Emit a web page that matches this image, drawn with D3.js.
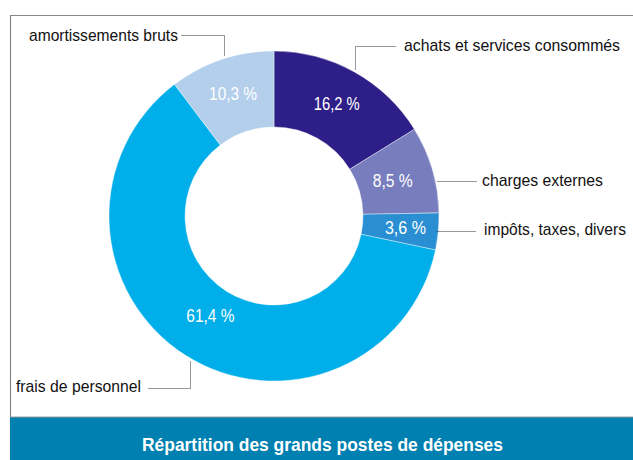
<!DOCTYPE html>
<meta charset="utf-8">
<style>
body { margin: 0; background: #fff; }
svg { display: block; }
.lbl { font-family: 'Liberation Sans', Arial, sans-serif; font-size: 17px; fill: #111; }
.pct { font-family: 'Liberation Sans', Arial, sans-serif; font-size: 17.5px; fill: #fff; }
.lead { fill: none; stroke: #333; stroke-width: 1; stroke-dasharray: 1,1; }
.title { font-family: 'Liberation Sans', Arial, sans-serif; font-size: 19px; font-weight: bold; fill: #fff; }
</style>
<body>
<div id="chart"></div>
<script src="https://cdn.jsdelivr.net/npm/d3@7"></script>
<script>
// parts of expenses, clockwise from 12 o'clock
var categories = ['achats et services consommés', 'charges externes', 'impôts, taxes, divers', 'frais de personnel', 'amortissements bruts']
var values = [16.2, 8.5, 3.6, 61.4, 10.3]
var colours = ['#2e1e87', '#777dbd', '#2a8fd2', '#00aeea', '#b3cfec']
var title = 'Répartition des grands postes de dépenses'

var svg = d3.select('#chart')
            .append('svg')
            .attr('width', 633)
            .attr('height', 460)

// frame
svg.append('path')
   .attr('d', 'M10.5,460 V15.5 H633')
   .attr('fill', 'none')
   .attr('stroke', '#888')
   .attr('stroke-width', 1.2)

svg.append('rect')
   .attr('x', 10).attr('y', 417)
   .attr('width', 623).attr('height', 43)
   .attr('fill', '#007fb1')
svg.append('line')
   .attr('x1', 10).attr('x2', 633)
   .attr('y1', 417).attr('y2', 417)
   .attr('stroke', '#999').attr('stroke-width', 1.2)

// narrow font look: squeeze text to the widths of the original
svg.append('text')
   .attr('x', 142)
   .attr('y', 451)
   .attr('class', 'title')
   .attr('textLength', 361)
   .attr('lengthAdjust', 'spacingAndGlyphs')
   .text(title)

var cx = 274, cy = 216, R = 165, r = 89

var pie = d3.pie().sort(null).value(function(d){ return d })
var arcs = pie(values)
var arc = d3.arc().innerRadius(r).outerRadius(R)

var g = svg.append('g').attr('transform', 'translate(' + cx + ',' + cy + ')')

g.selectAll('path.slice')
 .data(arcs)
 .enter().append('path')
 .attr('class', 'slice')
 .attr('d', arc)
 .attr('fill', function(d, i){ return colours[i] })
 .attr('stroke', '#fff')
 .attr('stroke-width', 0.4)

// percentage labels, radius tweaked per slice to sit like the original
var labelR = [0.78, 0.75, 0.80, 0.72, 0.78]
var labelW = [46, 40, 41, 48, 48]
g.selectAll('text.pct')
 .data(arcs)
 .enter().append('text')
 .attr('class', 'pct')
 .attr('x', function(d, i){ var a = (d.startAngle + d.endAngle) / 2; return Math.sin(a) * R * labelR[i] - labelW[i] / 2 })
 .attr('y', function(d, i){ var a = (d.startAngle + d.endAngle) / 2; return -Math.cos(a) * R * labelR[i] + 6 })
 .attr('textLength', function(d, i){ return labelW[i] })
 .attr('lengthAdjust', 'spacingAndGlyphs')
 .text(function(d){ return d.data.toFixed(1).replace('.', ',') + ' %' })

// category labels with dotted leaders
var leaders = [
  { tx: 404, ty: 51, w: 216, pts: [[395, 46], [355, 46], [355, 70]] },
  { tx: 482, ty: 186, w: 121, pts: [[476, 181], [436, 181]] },
  { tx: 484, ty: 235, w: 142, pts: [[475, 231], [435, 231]] },
  { tx: 16, ty: 392, w: 125, pts: [[148, 388], [190, 388], [190, 360]] },
  { tx: 29, ty: 41, w: 149, pts: [[181, 35], [224, 35], [224, 56]] }
]

leaders.forEach(function(l, i) {
  svg.append('path')
     .attr('class', 'lead')
     .attr('d', d3.line()(l.pts.map(function(p){ return [p[0] + 0.5, p[1] + 0.5] })))
  svg.append('text')
     .attr('class', 'lbl')
     .attr('x', l.tx)
     .attr('y', l.ty)
     .attr('textLength', l.w)
     .attr('lengthAdjust', 'spacingAndGlyphs')
     .text(categories[i])
})
</script>
</body>
